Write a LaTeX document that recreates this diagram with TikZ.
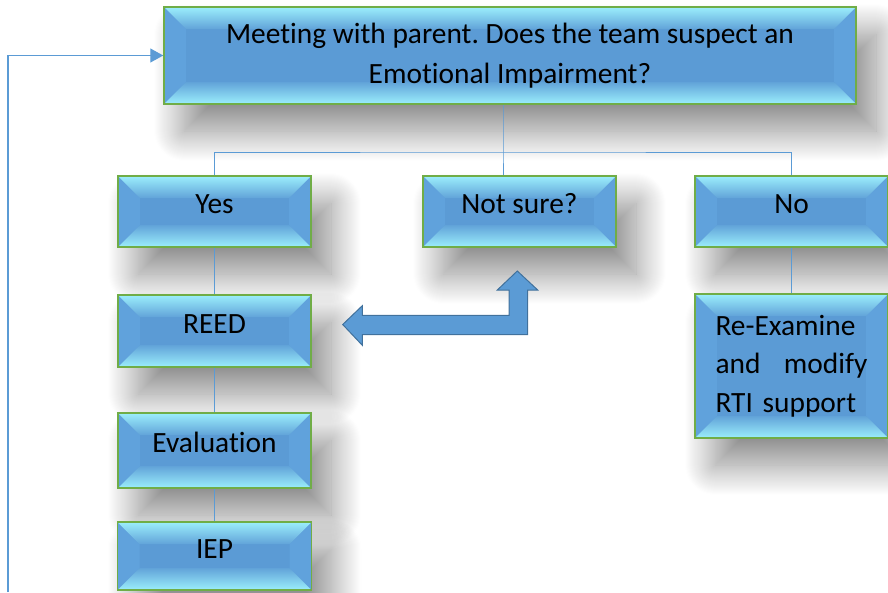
\documentclass[tikz,border=0pt]{standalone}
\usepackage{fontspec}
\setmainfont[Ligatures=NoCommon]{Carlito}
\usetikzlibrary{shadows.blur,arrows.meta,calc}
\frenchspacing
\definecolor{midblue}{RGB}{91,155,213}
\definecolor{lightcyan}{RGB}{155,238,252}
\definecolor{sideblue}{RGB}{96,162,220}
\definecolor{bordergreen}{RGB}{112,173,71}
\definecolor{linkblue}{RGB}{91,155,213}
\definecolor{arrowedge}{RGB}{65,113,156}
\tikzset{
  bevbox/.style={draw=bordergreen, line width=1.5pt, fill=midblue,
    minimum width=193pt, minimum height=71pt, inner sep=0pt,
    font=\fontsize{29.4}{40}\selectfont\frenchspacing, align=center, text=black,
    blur shadow={shadow xshift=20pt, shadow yshift=-27pt, shadow blur radius=30pt, shadow blur steps=30, shadow opacity=46},
    path picture={
      \path (path picture bounding box.north west) coordinate (ppnw)
            (path picture bounding box.north east) coordinate (ppne)
            (path picture bounding box.south west) coordinate (ppsw)
            (path picture bounding box.south east) coordinate (ppse);
      \fill[sideblue] (ppnw) -- ([xshift=22pt,yshift=-22pt]ppnw) -- ([xshift=22pt,yshift=22pt]ppsw) -- (ppsw) -- cycle;
      \fill[sideblue] (ppne) -- ([xshift=-22pt,yshift=-22pt]ppne) -- ([xshift=-22pt,yshift=22pt]ppse) -- (ppse) -- cycle;
      \shade[top color=lightcyan, bottom color=midblue!90!lightcyan]
        (ppnw) -- (ppne) -- ([xshift=-22pt,yshift=-22pt]ppne) -- ([xshift=22pt,yshift=-22pt]ppnw) -- cycle;
      \shade[top color=midblue!90!lightcyan, bottom color=lightcyan]
        ([xshift=22pt,yshift=22pt]ppsw) -- ([xshift=-22pt,yshift=22pt]ppse) -- (ppse) -- (ppsw) -- cycle;
    }},
  oneline/.style={text height=20pt, text depth=16pt},
  link/.style={draw=linkblue, line width=1pt},
  bigarrow/.style={fill=midblue, draw=arrowedge, line width=1pt}
}
\begin{document}
\begin{tikzpicture}[x=1pt,y=-1pt]
\useasboundingbox (0,0) rectangle (888,592);
\clip (0,0) rectangle (888,592);

\node[bevbox, minimum width=692pt, minimum height=97pt] (top) at (510,55.5)
  {Meeting with parent. Does the team suspect an\\Emotional Impairment?};
\node[bevbox, oneline] (yes) at (214.5,211.5) {Yes};
\node[bevbox, oneline] (notsure) at (519.5,211.5) {Not sure?};
\node[bevbox, oneline] (no) at (791.5,211.5) {No};
\node[bevbox, oneline, minimum height=72pt] (reed) at (214.5,331) {REED};
\node[bevbox, minimum height=144pt, text width=152pt, align=left,
      font=\fontsize{29.4}{38.5}\selectfont] (reexam) at (791.5,366)
  {Re-Examine\\and\hfill modify\\RTI support};
\node[bevbox, oneline, minimum height=75pt] (eval) at (214.5,450.5) {Evaluation};
\node[bevbox, oneline, minimum width=194pt, minimum height=68pt] (iep) at (214.5,556) {IEP};

\coordinate (j) at (503,152);
\coordinate (fb) at (8,592);
\draw[link] (j |- top.south) -- (j) -- (j |- notsure.north);
\draw[link] (yes.north) |- (j) -| (no.north);
\draw[link] (yes.south) -- (reed.north);
\draw[link] (reed.south) -- (eval.north);
\draw[link] (eval.south) -- (iep.north);
\draw[link] (no.south) -- (reexam.north);
\draw[link, line width=1.4pt, -{Triangle[length=13pt,width=14pt]}] (fb) |- (top.west);

\draw[bigarrow] (342.7,324.5) -- (362.3,305.7) -- (362.3,315.3) -- (509,315.3)
  -- (509,290) -- (497.3,290) -- (517.3,271) -- (537.7,290) -- (527.7,290)
  -- (527.7,334.7) -- (362.3,334.7) -- (362.3,345.3) -- cycle;
\end{tikzpicture}
\end{document}
